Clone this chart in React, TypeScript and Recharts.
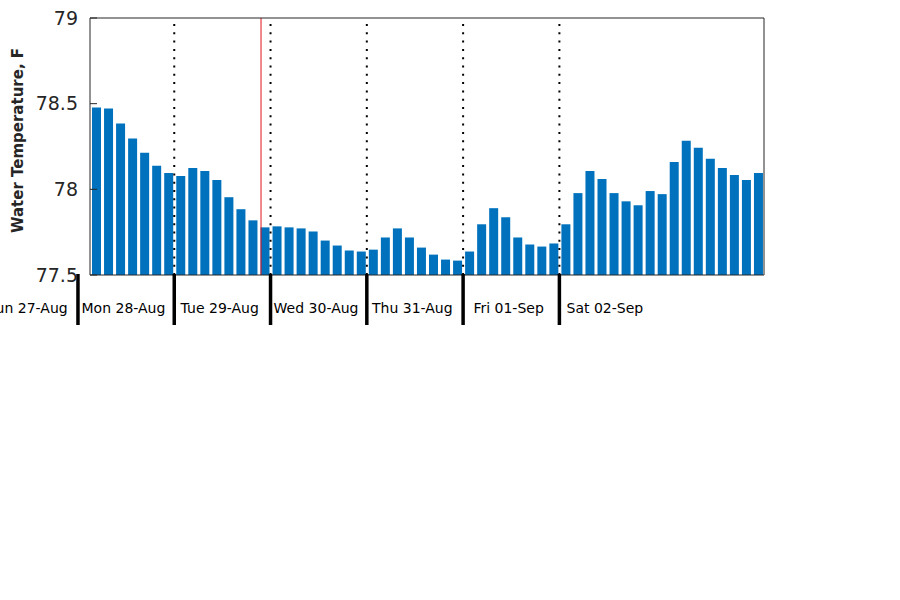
import React from 'react';
import { BarChart, Bar, XAxis, YAxis, ReferenceLine } from 'recharts';

// Hourly-ish (3 h) water temperature samples, index k = 0..55
const temps: number[] = [
  78.478, 78.472, 78.384, 78.296, 78.214, 78.137, 78.096, 78.078,
  78.125, 78.107, 78.054, 77.954, 77.884, 77.819, 77.778, 77.784,
  77.778, 77.772, 77.754, 77.701, 77.672, 77.643, 77.637, 77.648,
  77.719, 77.772, 77.719, 77.66, 77.619, 77.59, 77.584, 77.637,
  77.796, 77.89, 77.837, 77.719, 77.678, 77.666, 77.684, 77.796,
  77.978, 78.107, 78.06, 77.978, 77.93, 77.907, 77.99, 77.972,
  78.16, 78.284, 78.243, 78.178, 78.125, 78.084, 78.054, 78.096,
];

// Day boundaries in sample-index units (ticks on the time axis)
const dayTicks: number[] = [-9.5, -1.5, 6.5, 14.5, 22.5, 30.5, 38.5];
const dayLabels: string[] = [
  'Sun 27-Aug', 'Mon 28-Aug', 'Tue 29-Aug', 'Wed 30-Aug',
  'Thu 31-Aug', 'Fri 01-Sep', 'Sat 02-Sep',
];
const dottedLines: number[] = [6.5, 14.5, 22.5, 30.5, 38.5];
const nowMarker = 13.71;

const yTicks: number[] = [77.5, 78, 78.5, 79];
const yDomain: [number, number] = [77.5, 79];

const data = temps.map((t, k) => ({ k, temp: t }));

const FONT = '"DejaVu Sans", sans-serif';

const DayTick = (props: any) => {
  const { x, y, index } = props;
  return (
    <g>
      <line x1={x} y1={y - 1} x2={x} y2={y + 50} stroke="#000" strokeWidth={3.5} />
      <text
        x={x + 45.5}
        y={y + 38}
        textAnchor="middle"
        fontSize={14}
        fontFamily={FONT}
        fill="#000"
      >
        {dayLabels[index]}
      </text>
    </g>
  );
};

const YLabel = (props: any) => {
  const vb = props.viewBox || { x: 0, y: 18, width: 90, height: 257 };
  const cx = 23;
  const cy = vb.y + vb.height / 2 - 6;
  return (
    <text
      x={cx}
      y={cy}
      transform={`rotate(-90 ${cx} ${cy})`}
      textAnchor="middle"
      fontWeight="bold"
      fontSize={15}
      fontFamily={FONT}
      fill="#262626"
    >
      Water Temperature, F
    </text>
  );
};

export default function App() {
  return (
    <div style={{ position: 'absolute', left: 0, top: 0 }}>
      <BarChart
        width={900}
        height={600}
        data={data}
        margin={{ top: 18, right: 135, left: 0, bottom: 0 }}
        style={{ fontFamily: FONT }}
      >
        <XAxis
          dataKey="k"
          type="number"
          domain={[-0.5, 55.5]}
          ticks={dayTicks}
          interval={0}
          tick={<DayTick />}
          tickLine={false}
          tickSize={0}
          tickMargin={0}
          height={325}
          axisLine={{ stroke: '#262626' }}
          allowDataOverflow
        />
        <YAxis
          domain={yDomain}
          ticks={yTicks}
          interval={0}
          width={90}
          tickSize={-7}
          tickMargin={19}
          axisLine={{ stroke: '#262626' }}
          tickLine={{ stroke: '#262626' }}
          tick={{ fill: '#262626', fontSize: 19, fontFamily: FONT }}
          allowDataOverflow
          label={<YLabel />}
        />
        <YAxis
          yAxisId="r"
          orientation="right"
          domain={yDomain}
          ticks={yTicks}
          interval={0}
          width={1}
          tickSize={-7}
          tick={false}
          axisLine={{ stroke: '#262626' }}
          tickLine={{ stroke: '#262626' }}
          allowDataOverflow
        />
        <Bar dataKey="temp" fill="#0072BD" barSize={9} isAnimationActive={false} />
        {dottedLines.map((d) => (
          <ReferenceLine
            key={d}
            x={d}
            stroke="#000"
            strokeWidth={2}
            strokeDasharray="2 6.3"
          />
        ))}
        <ReferenceLine x={nowMarker} stroke="#e3141c" strokeWidth={1} />
        <ReferenceLine y={79} stroke="#262626" strokeWidth={1} />
      </BarChart>
    </div>
  );
}
